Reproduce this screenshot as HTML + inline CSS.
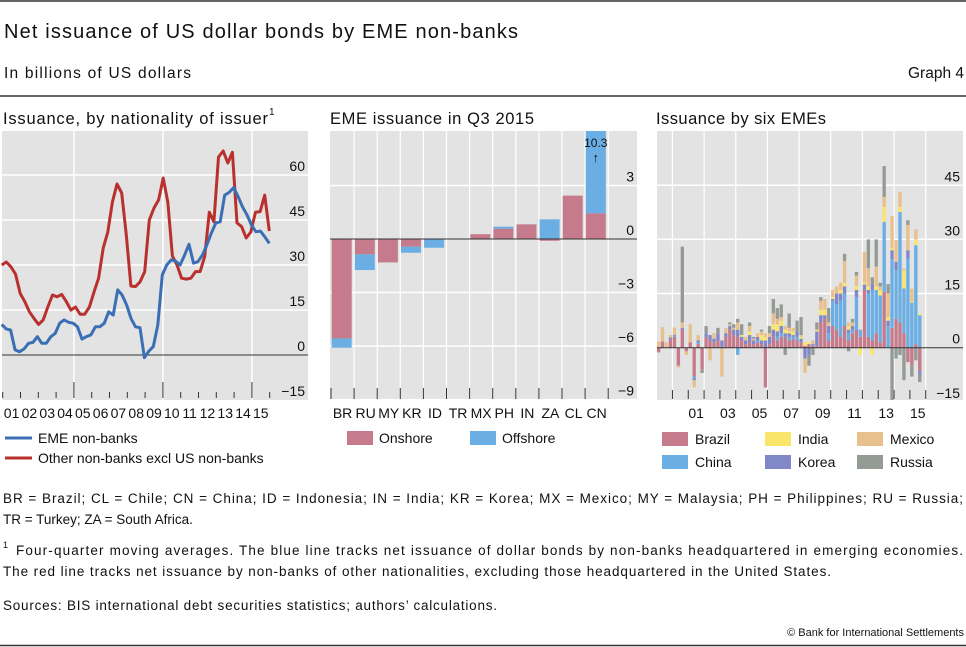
<!DOCTYPE html>
<html><head><meta charset="utf-8"><style>
html,body{margin:0;padding:0;background:#fff;}
svg{display:block;font-family:"Liberation Sans",sans-serif;}
</style></head><body>
<svg id="root" width="966" height="647" viewBox="0 0 966 647" xmlns="http://www.w3.org/2000/svg">
<line x1="0" y1="1" x2="966" y2="1" stroke="#333" stroke-width="1.5"/>
<text x="4" y="38" font-size="20" textLength="514" fill="#111">Net issuance of US dollar bonds by EME non-banks</text>
<text x="4" y="78" font-size="15.5" textLength="187" fill="#111">In billions of US dollars</text>
<text x="964" y="78" font-size="15.5" text-anchor="end" fill="#111">Graph 4</text>
<line x1="0" y1="96" x2="966" y2="96" stroke="#333" stroke-width="1.5"/>
<text x="3" y="124" font-size="16.5" textLength="265" fill="#111">Issuance, by nationality of issuer</text>
<text x="269" y="115" font-size="10" fill="#111">1</text>
<text x="330" y="124" font-size="16.5" textLength="204" fill="#111">EME issuance in Q3 2015</text>
<text x="656" y="124" font-size="16.5" textLength="170" fill="#111">Issuance by six EMEs</text>
<g id="p1"></g>
<g id="p2"></g>
<g id="p3"></g>

<g>
<line x1="5" y1="438" x2="32" y2="438" stroke="#3a6fb5" stroke-width="3"/>
<text x="38" y="443" font-size="14" fill="#111">EME non-banks</text>
<line x1="5" y1="458" x2="32" y2="458" stroke="#b8312f" stroke-width="3"/>
<text x="38" y="463" font-size="14" fill="#111">Other non-banks excl US non-banks</text>
</g>
<g>
<rect x="347" y="431" width="26" height="14" fill="#c57b8b"/>
<text x="379" y="443" font-size="14" fill="#111">Onshore</text>
<rect x="470" y="431" width="26" height="14" fill="#6aaee3"/>
<text x="502" y="443" font-size="14" fill="#111">Offshore</text>
</g>
<g id="leg3"></g>

<text x="3" y="503" font-size="13.5" textLength="960" fill="#111">BR = Brazil;  CL = Chile;  CN = China;  ID = Indonesia;  IN = India;  KR = Korea;  MX = Mexico;  MY = Malaysia;  PH = Philippines;  RU = Russia;</text>
<text x="3" y="524" font-size="13.5" fill="#111">TR = Turkey; ZA = South Africa.</text>
<text x="3" y="548" font-size="9" fill="#111">1</text>
<text x="16" y="555" font-size="13.5" textLength="947" fill="#111">Four-quarter moving averages. The blue line tracks net issuance of dollar bonds by non-banks headquartered in emerging economies.</text>
<text x="3" y="576" font-size="13.5" textLength="828" fill="#111">The red line tracks net issuance by non-banks of other nationalities, excluding those headquartered in the United States.</text>
<text x="3" y="610" font-size="13.5" textLength="494" fill="#111">Sources: BIS international debt securities statistics; authors’ calculations.</text>
<text x="964" y="636" font-size="11" text-anchor="end" fill="#111">© Bank for International Settlements</text>
<line x1="0" y1="645.5" x2="966" y2="645.5" stroke="#333" stroke-width="1.5"/>
</svg>
<script>
const NS="http://www.w3.org/2000/svg";
// ---- Panel 1 data ----
const p1YearLabels=["01","02","03","04","05","06","07","08","09","10","11","12","13","14","15"];
const p1Ticks=[-15,0,15,30,45,60];
const emeSeries=[10.2,8.7,8.3,1.7,1.1,2,3.9,4.2,6.1,3.9,3.9,6.1,7.2,10.6,11.7,10.9,10.6,9.4,5.3,6.1,6.7,9.4,9.4,10.6,14.4,13.3,21.7,20,16.7,12.2,9.4,9.1,-0.9,1.3,2.8,10,26.7,30,31.7,31.3,30,33.3,36.9,30.6,31.1,33.3,36.7,40.6,44,44.4,53.3,54.2,55.8,52.8,49.4,46.7,43.3,41.1,41.3,39.4,37.2];
const otherSeries=[30,31,29.4,27,20.5,17.8,14.4,12.2,10.2,11.7,16,20,19.4,20.2,17.8,15,16,13.6,13.6,16,21,25.6,35.6,41,51,57,54,40,23,22.8,24.4,27.8,45,49,51.7,59,51,33,30,25.6,25.3,25.6,27.8,27.8,32.8,47.6,44.4,66,68,64,67.6,44,42.8,39,41,47.6,47.8,53.3,41.3];
// ---- Panel 2 data ----
const p2Categories=["BR","RU","MY","KR","ID","TR","MX","PH","IN","ZA","CL","CN"];
const p2Onshore=[-5.57,-0.86,-1.31,-0.43,0,0,0.27,0.58,0.82,-0.1,2.43,1.44];
const p2Offshore=[-0.52,-0.88,0,-0.34,-0.49,0,0,0.11,0,1.1,0,8.86];
const p2Ticks=[-9,-6,-3,0,3];
// ---- Panel 3 data (1999Q1 .. 2015Q3) ----
const p3Labels=["01","03","05","07","09","11","13","15"];
const p3Ticks=[-15,0,15,30,45];
const p3SeriesNames=["Brazil","China","Korea","India","Mexico","Russia"];
const brazil=[-1.3,1.7,0,2.3,3,-5,5,-1,1.5,-8,1,-6,3,2,1.5,2,0,3,5,3.5,3,2,1,1.5,1,1.5,1,-11,1,3,2,3,3,2,2.5,2,1.5,0.5,1,0.5,0.5,7,8,2,6,5,3,6,2,4,5,3,16,3,2,4,1.5,15.5,0,5.5,8,7,4,-4,-5,1,-6.5];
const china=[0,0,0,0,0.3,0,0,0,0,-0.5,0.5,0,0,0,0,0,0,0,0,0,-2,0,0,0,0,0.5,0,0,0,0,1,1,0,1,0.5,1,0,0,0,0,0,0,0,2,7,7,10,9,2,1,9,2,0,12,14,12,13,19.3,6,19,13.5,30.6,12.4,24.7,12.5,27.4,9];
const korea=[0,0,0,0.5,0.3,0,0.5,0,0,-0.5,0.5,0,1,1.5,1,2,2,1,1,1.5,2,1,1,2,1,1,1,2,2,2,1.5,2,1,1,0.5,1.5,1,-3,-2,0.5,4,2,1,2,0.5,3,2,2,1,1,2,0,1.5,1,1.5,0,0,0,1.5,2.5,2.3,0,0,2.3,0,0,-1];
const india=[0,0,0,0,0,0,0,0,0,0,0,0,0,0,0,0,0,0,0,0,0,0.5,0,1,0,0,1.5,1,0,1.5,2,1.5,1,0.5,1,0,0.5,1,0.5,0,0.5,1.5,1.5,0,0.5,0,1,1,1,0,1,-2,0.5,1,-2,1,1.5,4.2,1,0.5,0,1.4,5,0,0.3,1.6,0.5];
const mexico=[1.7,4,1.5,0.7,2,-0.5,1.5,-1,5,-2,1.5,0,0,-3.5,1.5,0,-8,1.5,0.5,0.5,2,0,1,1.5,0.5,1,1,1,1,3,1.5,1,1,1,1,0,0.5,-4,0,1,0,2.5,3,1,2,2,2,6,1,1,3,0,8.5,5,0,5.5,1,2.8,6.5,9,6,4.2,0.5,7,3.6,2.8,0];
const russia=[0,0,0,0,0,0,21,0,0,0,0,-1,2,0,0,1.5,0,0,0.5,1,1,3,0,1,0.5,0,0.5,0,2,4,3,3.5,-2,4,0,3,5,0,-3,-2,2,1,0,4,0,0,0,2,-1,1,1,0,0,8,2,7.5,1,8.5,2.6,-14.5,-3,-2,-9,1.3,-3,-3.5,-2];
const p3Colors=["#c57b8b","#6aaee3","#8088c8","#f9e56a","#e8c08e","#949a94"];

function mk(parent,tag,attrs){const e=document.createElementNS(NS,tag);for(const k in attrs)e.setAttribute(k,attrs[k]);parent.appendChild(e);return e;}

// ===== Panel 1 =====
(function(){
const g=document.getElementById('p1');
const L=2,R=308,T=131,B=400;
const y=v=>355-v*3;
const yearX=i=>2.7+i*17.8; // i = years since 2001
const bg=mk(g,'rect',{x:L,y:T,width:R-L,height:B-T,fill:'#e3e3e3'});

p1Ticks.forEach(t=>{
  if(t!==0&&y(t)>T&&y(t)<B){const l=mk(g,'line',{x1:L,x2:R,y1:y(t),y2:y(t),stroke:'#fff','stroke-width':1.5});
  }
  const tx=mk(g,'text',{x:305,y:y(t)-4,'font-size':14,'text-anchor':'end',fill:'#111'});
  tx.textContent=t<0?'\u2212'+(-t):String(t);
  
});
for(let i=0;i<=p1YearLabels.length;i++){
  const major=(i%5===4);
  const x=yearX(i);
  if(major){const vl=mk(g,'line',{x1:x,x2:x,y1:T,y2:B,stroke:'#fff','stroke-width':1.5});
   }
  const tk=mk(g,'line',{x1:x,x2:x,y1:major?382:392,y2:398,stroke:'#333','stroke-width':1});
  
}
p1YearLabels.forEach((lab,i)=>{
  const tx=mk(g,'text',{x:yearX(i)+8.9,y:418,'font-size':14,'text-anchor':'middle',fill:'#111'});
  tx.textContent=lab;
});
const z=mk(g,'line',{x1:L,x2:R,y1:y(0),y2:y(0),stroke:'#333','stroke-width':1});

function line(data,color,name){
  const x0=1.7,x1=269.3;
  const pts=data.map((v,i)=>(x0+(x1-x0)*i/(data.length-1)).toFixed(1)+','+y(v).toFixed(1)).join(' ');
  const p=mk(g,'polyline',{points:pts,fill:'none',stroke:color,'stroke-width':3,'stroke-linejoin':'round'});
  
}
line(otherSeries,'#b8312f','other-nonbanks-line');
line(emeSeries,'#3a6fb5','eme-nonbanks-line');
})();

// ===== Panel 2 =====
(function(){
const g=document.getElementById('p2');
const L=330,R=637,T=131,B=400;
const y=v=>239-v*17.85;
const slot=23.1,x0=331;
const bg=mk(g,'rect',{x:L,y:T,width:R-L,height:B-T,fill:'#e3e3e3'});

p2Ticks.forEach(t=>{
  if(t!==0){const l=mk(g,'line',{x1:L,x2:R,y1:y(t),y2:y(t),stroke:'#fff','stroke-width':1.5});
  }
  const tx=mk(g,'text',{x:634,y:y(t)-4,'font-size':14,'text-anchor':'end',fill:'#111'});
  tx.textContent=t<0?'\u2212'+(-t):String(t);
  
});
for(let i=0;i<=p2Categories.length;i++){
  const x=x0+i*slot;
  if(i>0){const vl=mk(g,'line',{x1:x,x2:x,y1:T,y2:B,stroke:'#fff','stroke-width':1.2});
  }
  const tk=mk(g,'line',{x1:x,x2:x,y1:388,y2:399,stroke:'#333','stroke-width':1});
  
}
p2Categories.forEach((c,i)=>{
  const bx=x0+i*slot+0.7,bw=20;
  let pos=0,neg=0;
  [[p2Onshore[i],'#c57b8b','onshore'],[p2Offshore[i],'#6aaee3','offshore']].forEach(([v,col,nm])=>{
    if(v===0)return;
    let y1,y2;
    if(v>0){y1=pos;y2=pos+v;pos=y2;}else{y1=neg;y2=neg+v;neg=y2;}
    const top=Math.max(T,Math.min(y(y1),y(y2)));const bot=Math.max(y(y1),y(y2));
    const r=mk(g,'rect',{x:bx,y:top,width:bw,height:bot-top,fill:col});
    
  });
  const tx=mk(g,'text',{x:x0+i*slot+slot/2,y:418,'font-size':14,'text-anchor':'middle',fill:'#111'});
  tx.textContent=c;
  if(y(pos)<T){
    const a=mk(g,'text',{x:bx+bw/2,y:147,'font-size':12,'text-anchor':'middle',fill:'#111'});
    a.textContent=(p2Onshore[i]+p2Offshore[i]).toFixed(1);
    
    const ar=mk(g,'text',{x:bx+bw/2,y:162,'font-size':13,'text-anchor':'middle',fill:'#111'});
    ar.textContent='\u2191';
  }
});
const z=mk(g,'line',{x1:L,x2:R,y1:y(0),y2:y(0),stroke:'#333','stroke-width':1});

})();

// ===== Panel 3 =====
(function(){
const g=document.getElementById('p3');
const L=657,R=963,T=131,B=400;
const y=v=>347.7-v*3.61;
const yr=15.83,x1999=656.6,qw=yr/4;
const series=[brazil,china,korea,india,mexico,russia];
const bg=mk(g,'rect',{x:L,y:T,width:R-L,height:B-T,fill:'#e3e3e3'});

p3Ticks.forEach(t=>{
  if(t!==0&&y(t)>T&&y(t)<B){const l=mk(g,'line',{x1:L,x2:R,y1:y(t),y2:y(t),stroke:'#fff','stroke-width':1.5});
  }
  const tx=mk(g,'text',{x:960,y:y(t)-4,'font-size':14,'text-anchor':'end',fill:'#111'});
  tx.textContent=t<0?'\u2212'+(-t):String(t);
  
});
for(let k=0;k<=17;k++){
  const x=x1999+k*yr;
  if(k%2===1&&x<R){const vl=mk(g,'line',{x1:x,x2:x,y1:T,y2:B,stroke:'#fff','stroke-width':1.2});
  }
  if(k>0){const tk=mk(g,'line',{x1:x,x2:x,y1:390,y2:399,stroke:'#333','stroke-width':1});
  }
}
p3Labels.forEach((lab,i)=>{
  const x=x1999+(2+2*i)*yr+yr/2;
  const tx=mk(g,'text',{x:x,y:418,'font-size':14,'text-anchor':'middle',fill:'#111'});
  tx.textContent=lab;
});
const cg=mk(g,'g',{});

const clip=mk(g,'clipPath',{id:'c3'});mk(clip,'rect',{x:L,y:T,width:R-L,height:B-T});
cg.setAttribute('clip-path','url(#c3)');
for(let q=0;q<brazil.length;q++){
  let pos=0,neg=0;const bx=x1999+q*qw+0.3;
  series.forEach((s,si)=>{
    const v=s[q];if(!v)return;
    let a,b;if(v>0){a=pos;b=pos+v;pos=b;}else{a=neg;b=neg+v;neg=b;}
    const top=Math.min(y(a),y(b)),h=Math.abs(y(a)-y(b));
    const r=mk(cg,'rect',{x:bx,y:top,width:qw-0.6,height:h,fill:p3Colors[si]});
    
    
  });
}
const z=mk(g,'line',{x1:L,x2:R,y1:y(0),y2:y(0),stroke:'#333','stroke-width':1});

// legend
const lg=document.getElementById('leg3');
const lx=[662,765,857],ly=[432,455];
const order=[0,3,4,1,2,5];
order.forEach((si,k)=>{
  const col=k%3,row=Math.floor(k/3);
  const r=mk(lg,'rect',{x:lx[col],y:ly[row],width:26,height:14,fill:p3Colors[si]});
  
  
  const t=mk(lg,'text',{x:lx[col]+33,y:ly[row]+12,'font-size':14,fill:'#111'});
  t.textContent=p3SeriesNames[si];
  
  
});
})();
</script>
</body></html>
